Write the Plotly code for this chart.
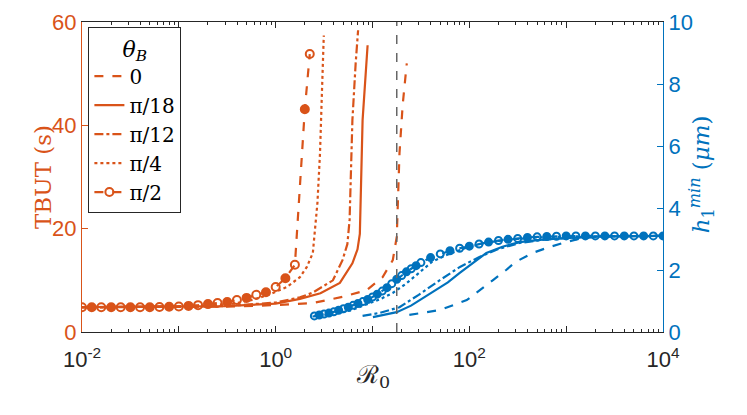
import plotly.graph_objects as go

ORANGE = "#D95319"
BLUE = "#0072BD"
DARK = "#262626"

# legend labels (theta_B)
labels = ["0", "π/18", "π/12", "π/4", "π/2"]

# --- TBUT (s) vs R0, left axis ---
tbut_x_0 = [0.01, 0.1, 0.3, 1, 2.4, 4.9, 8.7, 12.7, 16.2, 17.8, 19.0, 20.5, 22.6]
tbut_y_0 = [4.8, 4.8, 4.9, 5.2, 5.6, 6.8, 8.1, 10.6, 13.9, 18.4, 34.6, 44, 52]

tbut_x_18 = [0.01, 0.1, 0.3, 1, 1.78, 2.9, 4.6, 6.2, 7.0, 7.4, 7.7, 7.9, 8.9]
tbut_y_18 = [4.8, 4.85, 5.0, 5.5, 6.4, 7.5, 9.5, 13.3, 16, 19, 30, 41, 55.5]

tbut_x_12 = [0.01, 0.1, 0.3, 1, 1.78, 2.4, 3.9, 4.9, 5.5, 5.8, 6.2, 6.7, 7.1]
tbut_y_12 = [4.8, 4.85, 5.0, 5.7, 6.7, 7.6, 10, 13.9, 17, 21.7, 41, 52, 58.4]

tbut_x_4 = [0.01, 0.03, 0.1, 0.2, 0.4, 0.6, 0.87, 1.3, 1.78, 2.1, 2.42, 2.7, 2.87, 3.0, 3.14]
tbut_y_4 = [4.8, 4.8, 4.9, 5.1, 5.6, 6.3, 7.3, 8.7, 10.6, 12.6, 15.3, 25, 34.6, 46, 57.4]

tbut_x_2 = [0.01, 0.0126, 0.0158, 0.02, 0.0251, 0.0316, 0.0398, 0.0501, 0.0631, 0.0794,
            0.1, 0.126, 0.158, 0.2, 0.251, 0.316, 0.398, 0.501, 0.631, 0.794,
            1.0, 1.26, 1.58, 2.0, 2.25]
tbut_y_2 = [4.8, 4.8, 4.8, 4.8, 4.8, 4.8, 4.8, 4.8, 4.85, 4.9,
            4.95, 5.05, 5.2, 5.4, 5.6, 5.8, 6.2, 6.6, 7.2, 7.7,
            8.7, 10.4, 13.0, 43.1, 53.8]

# --- h1_min (um) vs R0, right axis ---
h_x_0 = [24, 50, 94, 130, 177, 240, 300, 450, 670, 1000, 1450, 2500, 4900, 10000]
h_y_0 = [0.55, 0.71, 1.03, 1.35, 1.68, 2.0, 2.26, 2.55, 2.74, 2.9, 3.03, 3.08, 3.1, 3.1]

h_x_18 = [10.1, 17.8, 25, 41, 60, 79, 110, 150, 220, 330, 600, 1000, 2000, 10000]
h_y_18 = [0.48, 0.64, 0.85, 1.26, 1.6, 1.9, 2.25, 2.55, 2.75, 2.9, 2.99, 3.03, 3.08, 3.1]

h_x_12 = [7.9, 12, 19, 30, 50, 80, 127, 200, 330, 600, 1000, 2000, 10000]
h_y_12 = [0.52, 0.62, 0.8, 1.2, 1.68, 2.1, 2.42, 2.68, 2.87, 2.98, 3.03, 3.08, 3.1]

h_x_4 = [2.4, 4, 6, 8.7, 12, 16.2, 22, 30, 41, 60, 90, 140, 250, 500, 1000, 10000]
h_y_4 = [0.5, 0.58, 0.7, 0.88, 1.06, 1.26, 1.55, 1.9, 2.26, 2.5, 2.7, 2.87, 2.98, 3.05, 3.08, 3.1]

h_x_2 = [2.51, 2.82, 3.16, 3.55, 3.98, 4.47, 5.01, 5.62, 6.31, 7.08, 7.94, 8.91,
         10.0, 11.2, 12.6, 14.1, 15.8, 17.8, 20.0, 22.4, 25.1, 28.2, 31.6,
         39.8, 50.1, 63.1, 79.4, 100, 126, 158, 200, 251, 316, 398, 501, 631, 794,
         1000, 1260, 1580, 2000, 2510, 3160, 3980, 5010, 6310, 7940, 10000]
h_y_2 = [0.52, 0.55, 0.58, 0.61, 0.65, 0.70, 0.75, 0.80, 0.86, 0.92, 0.98, 1.05,
         1.13, 1.22, 1.32, 1.43, 1.56, 1.70, 1.82, 1.94, 2.04, 2.14, 2.24,
         2.40, 2.52, 2.62, 2.70, 2.77, 2.84, 2.90, 2.95, 2.99, 3.02, 3.05, 3.07, 3.08,
         3.09, 3.10, 3.10, 3.10, 3.10, 3.10, 3.10, 3.10, 3.10, 3.10, 3.10, 3.10]

r0_mark = 17.8  # vertical dashed reference line

tbut_sets = [(tbut_x_0, tbut_y_0), (tbut_x_18, tbut_y_18), (tbut_x_12, tbut_y_12),
             (tbut_x_4, tbut_y_4), (tbut_x_2, tbut_y_2)]
h_sets = [(h_x_0, h_y_0), (h_x_18, h_y_18), (h_x_12, h_y_12),
          (h_x_4, h_y_4), (h_x_2, h_y_2)]
dashes = ["dash", "solid", "dashdot", "dot", "dash"]


def alt_symbols(n):
    return ["circle-open" if i % 2 == 0 else "circle" for i in range(n)]


fig = go.Figure()

for lab, (xs, ys), d in zip(labels, tbut_sets, dashes):
    mode = "lines+markers" if lab == "π/2" else "lines"
    fig.add_trace(go.Scatter(
        x=xs, y=ys, name=lab, mode=mode,
        line=dict(color=ORANGE, width=2.2, dash=d),
        marker=dict(symbol=alt_symbols(len(xs)), size=8, color=ORANGE,
                    line=dict(color=ORANGE, width=2)),
    ))

for lab, (xs, ys), d in zip(labels, h_sets, dashes):
    mode = "lines+markers" if lab == "π/2" else "lines"
    fig.add_trace(go.Scatter(
        x=xs, y=ys, name=lab, mode=mode, yaxis="y2", showlegend=False,
        line=dict(color=BLUE, width=2.2, dash=d),
        marker=dict(symbol=alt_symbols(len(xs)), size=7, color=BLUE,
                    line=dict(color=BLUE, width=2)),
    ))

# dashed vertical marker
fig.add_shape(type="line", xref="x", yref="paper", x0=r0_mark, x1=r0_mark, y0=0, y1=1,
              line=dict(color="#666666", width=1.5, dash="dash"))

# separator under the legend title
fig.add_shape(type="line", xref="paper", yref="paper", x0=0.011, x1=0.158, y0=0.877, y1=0.877,
              line=dict(color=DARK, width=1))

# axis titles as annotations
fig.add_annotation(text="TBUT (s)", xref="paper", yref="paper", x=-0.093, y=0.5,
                   textangle=-90, showarrow=False,
                   font=dict(family="DejaVu Serif", size=23, color=ORANGE))
fig.add_annotation(text="<i>h</i><sub>1</sub><sup><i>min</i></sup> (<i>μm</i>)",
                   xref="paper", yref="paper", x=1.098, y=0.51,
                   textangle=-90, showarrow=False,
                   font=dict(family="DejaVu Serif", size=23, color=BLUE))
fig.add_annotation(text="ℛ<sub>0</sub>", xref="paper", yref="paper", x=0.5, y=-0.2,
                   showarrow=False, font=dict(family="DejaVu Serif", size=25, color=DARK))

decades = [1e-2, 1e-1, 1e0, 1e1, 1e2, 1e3, 1e4]
dec_text = ["10<sup>-2</sup>", "", "10<sup>0</sup>", "", "10<sup>2</sup>", "", "10<sup>4</sup>"]
minor_vals = [m * d for d in decades[:-1] for m in range(2, 10)]

fig.update_layout(
    width=747, height=415,
    margin=dict(l=82, r=84, t=22, b=83),
    plot_bgcolor="white", paper_bgcolor="white",
    font=dict(family="Liberation Sans", size=20, color=DARK),
    xaxis=dict(
        type="log", range=[-2, 4], tickvals=decades, ticktext=dec_text,
        ticks="inside", ticklen=6, tickcolor=DARK, showline=True, linecolor=DARK,
        linewidth=1, mirror="ticks", showgrid=False, zeroline=False, automargin=False,
        tickfont=dict(size=22, color=DARK), ticklabelstandoff=8,
        minor=dict(tickvals=minor_vals, ticks="inside", ticklen=3, tickcolor=DARK, showgrid=False),
    ),
    yaxis=dict(
        range=[0, 60], tickvals=[0, 20, 40, 60], ticks="inside", ticklen=6,
        tickcolor=ORANGE, showline=True, linecolor=ORANGE, linewidth=1, automargin=False,
        showgrid=False, zeroline=False, tickfont=dict(size=22, color=ORANGE),
    ),
    yaxis2=dict(
        overlaying="y", side="right", range=[0, 10], tickvals=[0, 2, 4, 6, 8, 10],
        ticks="inside", ticklen=6, tickcolor=BLUE, showline=True, linecolor=BLUE,
        linewidth=1, showgrid=False, zeroline=False, automargin=False,
        tickfont=dict(size=22, color=BLUE),
    ),
    legend=dict(
        x=0.011, y=0.984, xanchor="left", yanchor="top",
        bgcolor="white", bordercolor=DARK, borderwidth=1,
        font=dict(family="DejaVu Serif", size=20, color="black"),
        title=dict(text="<i>θ<sub>B</sub></i>", side="top center",
                   font=dict(family="DejaVu Serif", size=22, color="black")),
        itemwidth=30, tracegroupgap=0,
    ),
)

fig.write_html("out.html", config={"displayModeBar": False},
               post_script="document.body.style.margin='0px';")
